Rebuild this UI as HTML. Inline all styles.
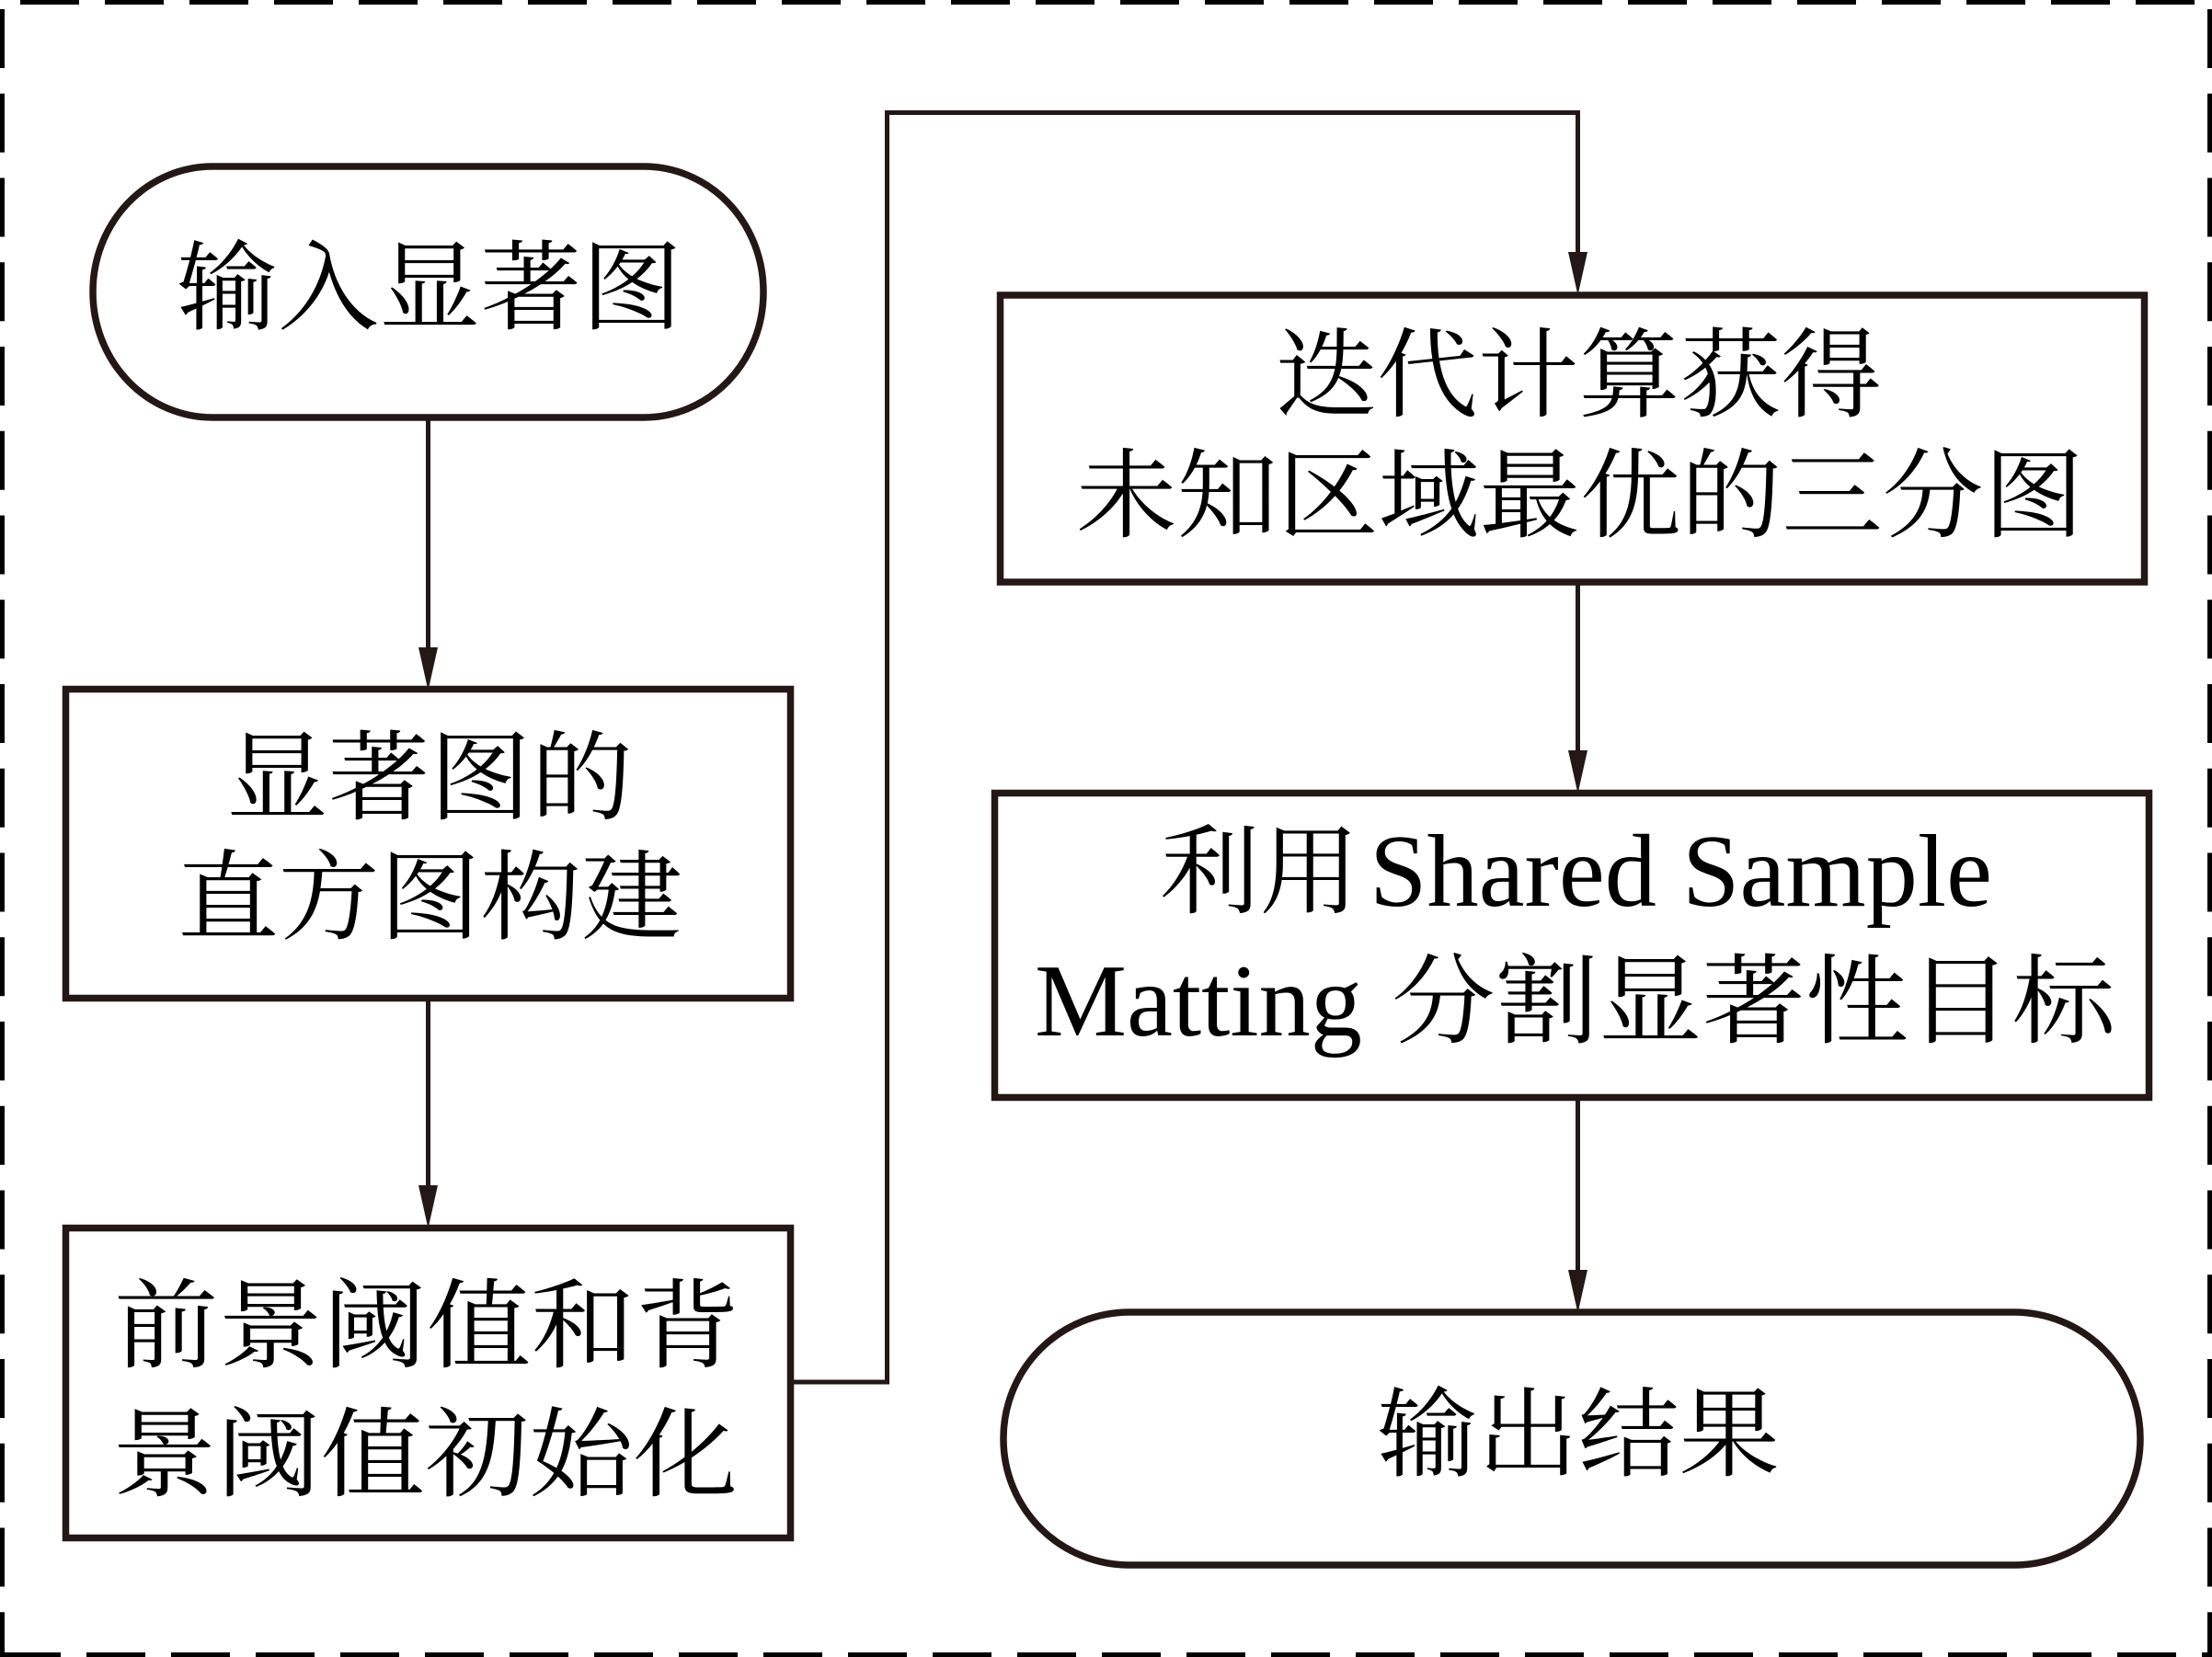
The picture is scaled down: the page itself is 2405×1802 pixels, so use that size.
<!DOCTYPE html>
<html lang="zh">
<head>
<meta charset="utf-8">
<title>Flowchart</title>
<style>
html,body{margin:0;padding:0;background:#fff;width:2405px;height:1802px;overflow:hidden}
svg{display:block}
text{font-family:"Liberation Serif","Noto Serif CJK SC",serif;font-size:106px;fill:#000;text-anchor:start}
.s{fill:none;stroke:#231815;stroke-width:7.500}
.l{fill:none;stroke:#231815;stroke-width:5}
.a{fill:#231815;stroke:none}
.d{fill:none;stroke:#000;stroke-width:10}
</style>
</head>
<body>
<svg width="2405" height="1802" viewBox="0 0 2405 1802" xmlns="http://www.w3.org/2000/svg">
<rect width="2405" height="1802" fill="#fff"/>
<!-- dashed frame -->
<path class="d" d="M22 0H2405" stroke-dasharray="64 28"/>
<path class="d" d="M2 1802H2405" stroke-dasharray="64 28"/>
<path class="d" d="M0 10V1802" stroke-dasharray="64 27.75"/>
<path class="d" d="M2405 10V1802" stroke-dasharray="64 27.75"/>

<!-- connectors -->
<path class="l" d="M465.500 455V710"/>
<polygon class="a" points="455,704 476,704 465.500,751"/>
<path class="l" d="M465.500 1089V1295"/>
<polygon class="a" points="455,1289 476,1289 465.500,1336"/>
<path class="l" d="M863 1503H964.500V122.500H1715.500V280"/>
<polygon class="a" points="1705,274 1726,274 1715.500,321"/>
<path class="l" d="M1715.500 636V820"/>
<polygon class="a" points="1705,816 1726,816 1715.500,863"/>
<path class="l" d="M1715.500 1197V1385"/>
<polygon class="a" points="1705,1381 1726,1381 1715.500,1428"/>

<!-- shapes -->
<rect class="s" x="101" y="181" width="729" height="273" rx="130" ry="136"/>
<rect class="s" x="71.500" y="749.500" width="788" height="336"/>
<rect class="s" x="71.500" y="1335.500" width="788" height="337"/>
<rect class="s" x="1087.500" y="321" width="1244" height="312"/>
<rect class="s" x="1081.500" y="862.500" width="1255" height="331"/>
<rect class="s" x="1091" y="1427" width="1236" height="275" rx="137" ry="137"/>

<!-- labels -->
<text x="192" y="350" textLength="550" lengthAdjust="spacingAndGlyphs">输入显著图</text>
<text x="246" y="883" textLength="442" lengthAdjust="spacingAndGlyphs">显著图的</text>
<text x="193" y="1013" textLength="549" lengthAdjust="spacingAndGlyphs">直方图构建</text>
<text x="124" y="1479" textLength="680" lengthAdjust="spacingAndGlyphs">前景阈值和背</text>
<text x="122" y="1619" textLength="680" lengthAdjust="spacingAndGlyphs">景阈值初始化</text>
<text x="1387" y="445" textLength="659" lengthAdjust="spacingAndGlyphs">迭代计算获得</text>
<text x="1170" y="576" textLength="1096" lengthAdjust="spacingAndGlyphs">未知区域最优的三分图</text>
<text x="1261" y="985" textLength="217" lengthAdjust="spacingAndGlyphs">利用</text>
<text x="1489" y="985" textLength="677" lengthAdjust="spacingAndGlyphs" style="font-size:112px">Shared Sample</text>
<text x="1125" y="1126" textLength="356" lengthAdjust="spacingAndGlyphs" style="font-size:112px">Matting</text>
<text x="1513" y="1126" textLength="787" lengthAdjust="spacingAndGlyphs">分割显著性目标</text>
<text x="1497" y="1597" textLength="438" lengthAdjust="spacingAndGlyphs">输出结果</text>
</svg>
</body>
</html>
